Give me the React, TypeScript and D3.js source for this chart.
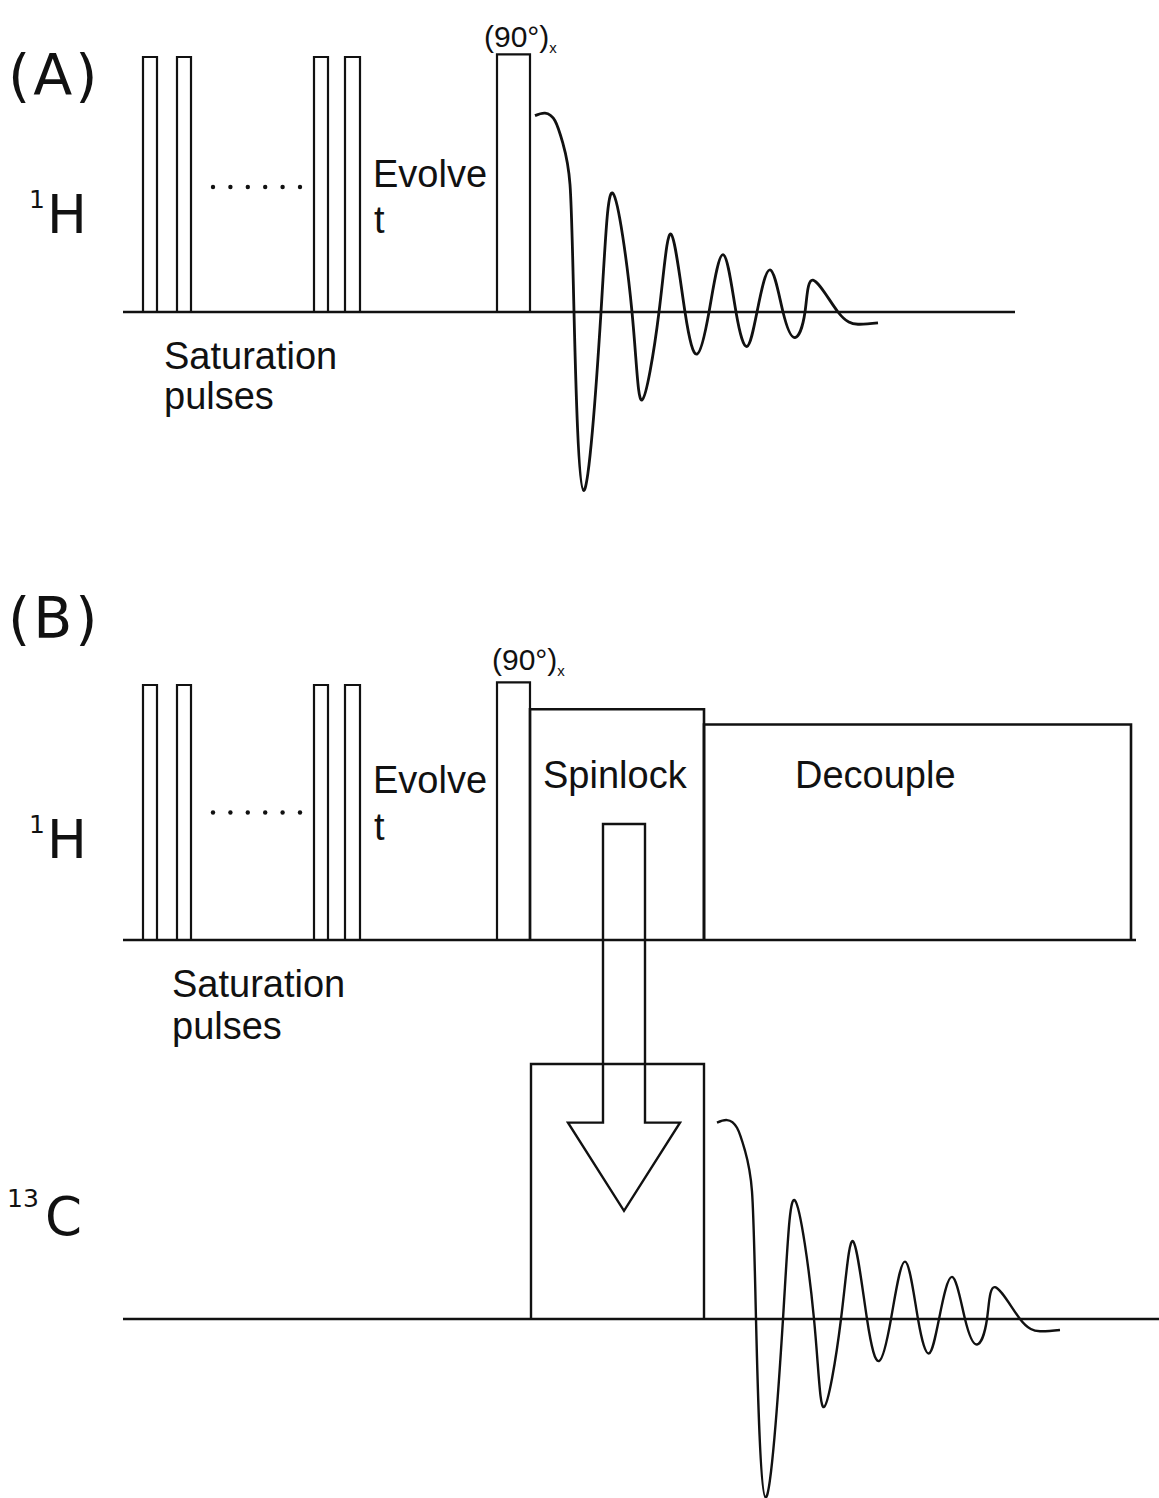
import * as d3 from "d3";

const W = 1159;
const H = 1498;

// time axis in arbitrary units, amplitude in % of a saturation pulse
const satPulses: [number, number][] = [
  [10, 17],
  [27, 34],
  [95.5, 102.5],
  [111, 118.5],
];
const satAmp = 100;
const dotTimes = [45, 53.7, 62.4, 71.1, 79.8, 88.5];
const pulse90: [number, number] = [187, 203.5];
const pulse90Amp = 101;
const spinlock = { start: 203.5, end: 290.5, amp: 90.5 };
const decouple = { start: 290.5, end: 504, amp: 84.5 };
const contact13C = { start: 204, end: 290.5, amp: 100 };

// baseline lengths
const baseA = 446;
const baseH = 506.5;
const baseC = 518;

// FID: [time after start, amplitude]
const fid: [number, number][] = [
  [0, 77], [5, 78], [10, 75], [14, 66], [17.5, 50], [19.5, 0], [24.3, -70],
  [33, 0], [39, 46.5], [48.5, 0], [53.5, -34.5], [62, 0], [68, 30.5],
  [75, 0], [81, -16.5], [87, 0], [94, 22.5], [100.5, 0], [106, -13.5],
  [111, 0], [117.5, 16.5], [124, 0], [130, -10], [135, 0], [139, 12.5],
  [151.5, 0], [161.5, -4.8], [171.5, -4.3],
];
const fidStartA = 206;
const fidStartC = 297;

// polarisation transfer arrow (1H -> 13C)
const arrow = { center: 250.5, shaftHalf: 10.5, headHalf: 28, topAmpH: 45.5, headAmpC: 77, tipAmpC: 42.4 };

const ink = "#111";
const labelFont = "'Liberation Sans', Arial, sans-serif";
const bigFont = "'DejaVu Sans', Verdana, sans-serif";

export default function App() {
  const x = d3.scaleLinear().domain([0, 518]).range([123, 1159]);
  const yA = d3.scaleLinear().domain([0, 100]).range([312, 57]);
  const yH = d3.scaleLinear().domain([0, 100]).range([940, 685]);
  const yC = d3.scaleLinear().domain([0, 100]).range([1319, 1064]);

  const box = (t0: number, t1: number, amp: number, y: d3.ScaleLinear<number, number>) =>
    `M${x(t0)},${y(0)}V${y(amp)}H${x(t1)}V${y(0)}`;

  const fidPath = (start: number, y: d3.ScaleLinear<number, number>) =>
    d3
      .line<[number, number]>()
      .x((d) => x(start + d[0]))
      .y((d) => y(d[1]))
      .curve(d3.curveNatural)(fid) || "";

  const arrowPath = (() => {
    const c = arrow.center;
    const pts: [number, number][] = [
      [x(c - arrow.shaftHalf), yH(arrow.topAmpH)],
      [x(c - arrow.shaftHalf), yC(arrow.headAmpC)],
      [x(c - arrow.headHalf), yC(arrow.headAmpC)],
      [x(c), yC(arrow.tipAmpC)],
      [x(c + arrow.headHalf), yC(arrow.headAmpC)],
      [x(c + arrow.shaftHalf), yC(arrow.headAmpC)],
      [x(c + arrow.shaftHalf), yH(arrow.topAmpH)],
    ];
    return d3.line()(pts) + "Z";
  })();

  const lineStyle = { fill: "none", stroke: ink, strokeWidth: 2.2 };

  const satBlock = (y: d3.ScaleLinear<number, number>, dotAmp: number) => (
    <g>
      {satPulses.map((p, i) => (
        <path key={i} d={box(p[0], p[1], satAmp, y)} {...lineStyle} />
      ))}
      {dotTimes.map((t, i) => (
        <circle key={i} cx={x(t)} cy={y(dotAmp)} r={2.2} fill={ink} />
      ))}
      <path d={box(pulse90[0], pulse90[1], pulse90Amp, y)} {...lineStyle} />
    </g>
  );

  return (
    <svg
      width={W}
      height={H}
      style={{ position: "absolute", left: 0, top: 0, background: "#fff" }}
    >
      {/* Panel A */}
      <text x={8} y={95} fontFamily={bigFont} fontSize={57} letterSpacing={3} fill={ink}>
        (A)
      </text>
      <text x={29} y={208} fontFamily={bigFont} fontSize={25} fill={ink}>1</text>
      <text x={47} y={233} fontFamily={bigFont} fontSize={53} fill={ink}>H</text>

      <line x1={x(0)} x2={x(baseA)} y1={yA(0)} y2={yA(0)} stroke={ink} strokeWidth={2.6} />
      {satBlock(yA, 49)}
      <path d={fidPath(fidStartA, yA)} fill="none" stroke={ink} strokeWidth={2.8} />

      <g fontFamily={labelFont} fontSize={38} fill={ink}>
        <text x={x(125)} y={187}>Evolve</text>
        <text x={x(125.5)} y={233}>t</text>
        <text x={164} y={369}>Saturation</text>
        <text x={164} y={409}>pulses</text>
      </g>
      <text x={484} y={47} fontFamily={labelFont} fontSize={30} fill={ink}>
        (90°)
        <tspan fontSize={15} dy={6}>x</tspan>
      </text>

      {/* Panel B */}
      <text x={8} y={638} fontFamily={bigFont} fontSize={57} letterSpacing={3} fill={ink}>
        (B)
      </text>
      <text x={29} y={833} fontFamily={bigFont} fontSize={25} fill={ink}>1</text>
      <text x={47} y={858} fontFamily={bigFont} fontSize={53} fill={ink}>H</text>
      <text x={7} y={1207} fontFamily={bigFont} fontSize={25} fill={ink}>13</text>
      <text x={45} y={1235} fontFamily={bigFont} fontSize={53} fill={ink}>C</text>

      <line x1={x(0)} x2={x(baseH)} y1={yH(0)} y2={yH(0)} stroke={ink} strokeWidth={2.6} />
      <line x1={x(0)} x2={x(baseC)} y1={yC(0)} y2={yC(0)} stroke={ink} strokeWidth={2.6} />
      {satBlock(yH, 50)}
      <path d={box(spinlock.start, spinlock.end, spinlock.amp, yH)} {...lineStyle} strokeWidth={2.6} />
      <path d={box(decouple.start, decouple.end, decouple.amp, yH)} {...lineStyle} strokeWidth={2.6} />
      <path d={box(contact13C.start, contact13C.end, contact13C.amp, yC)} {...lineStyle} strokeWidth={2.4} />
      <path d={arrowPath} {...lineStyle} strokeWidth={2.4} />
      <path d={fidPath(fidStartC, yC)} fill="none" stroke={ink} strokeWidth={2.4} />

      <g fontFamily={labelFont} fontSize={38} fill={ink}>
        <text x={x(125)} y={793}>Evolve</text>
        <text x={x(125.5)} y={840}>t</text>
        <text x={172} y={997}>Saturation</text>
        <text x={172} y={1039}>pulses</text>
        <text x={543} y={788}>Spinlock</text>
        <text x={795} y={788}>Decouple</text>
      </g>
      <text x={492} y={670} fontFamily={labelFont} fontSize={30} fill={ink}>
        (90°)
        <tspan fontSize={15} dy={6}>x</tspan>
      </text>
    </svg>
  );
}
